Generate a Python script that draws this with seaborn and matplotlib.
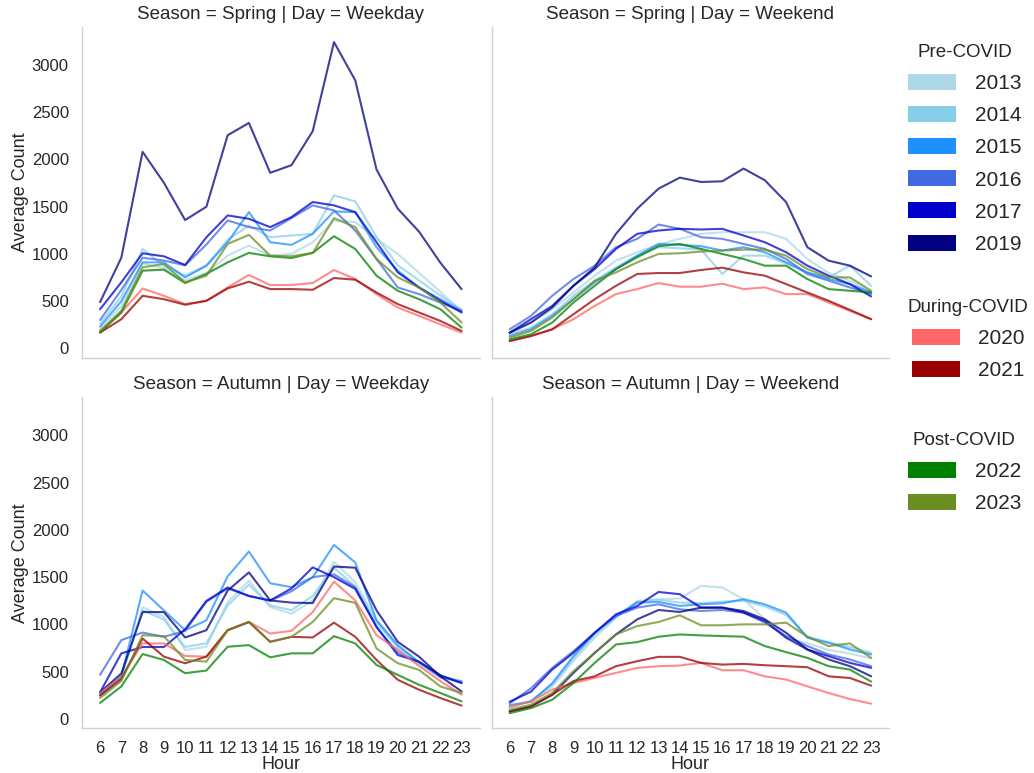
import pandas as pd
import seaborn as sns
import matplotlib.pyplot as plt
from matplotlib.patches import Patch

# Hours of the day shown on the x axis
HOURS = list(range(6, 24))

# Year groups for the legend
PRE_COVID = ["2013", "2014", "2015", "2016", "2017", "2019"]
DURING_COVID = ["2020", "2021"]
POST_COVID = ["2022", "2023"]

YEAR_COLORS = {
    "2013": "#ADD8E6", "2014": "#87CEEB", "2015": "#1E90FF",
    "2016": "#4169E1", "2017": "#0000CD", "2019": "#000080",
    "2020": "#FF6666", "2021": "#990000",
    "2022": "#008000", "2023": "#6B8E23",
}

# Average hourly counts, Spring weekdays
spring_weekday = {
    "2013": [200, 450, 900, 850, 720, 800, 982, 1089, 982, 1000, 1124, 1354, 1337, 1160, 1000, 800, 600, 390],
    "2014": [260, 550, 1053, 876, 770, 876, 1150, 1300, 1177, 1195, 1213, 1620, 1556, 1180, 880, 720, 560, 410],
    "2015": [230, 500, 911, 911, 752, 876, 1124, 1443, 1124, 1096, 1213, 1450, 1443, 1071, 823, 645, 521, 397],
    "2016": [300, 620, 960, 930, 880, 1100, 1355, 1284, 1248, 1380, 1514, 1461, 1248, 947, 645, 575, 486, 397],
    "2017": [415, 700, 1007, 975, 883, 1177, 1408, 1372, 1284, 1390, 1550, 1514, 1443, 1124, 805, 645, 504, 380],
    "2019": [490, 961, 2081, 1754, 1359, 1500, 2257, 2387, 1859, 1940, 2300, 3243, 2838, 1894, 1479, 1236, 908, 627],
    "2020": [185, 380, 635, 557, 469, 504, 646, 777, 671, 671, 692, 830, 734, 575, 433, 344, 255, 167],
    "2021": [167, 309, 557, 521, 462, 504, 635, 706, 628, 628, 621, 745, 727, 592, 469, 380, 291, 185],
    "2022": [170, 380, 823, 834, 692, 788, 911, 1011, 975, 957, 1011, 1188, 1053, 770, 610, 521, 415, 220],
    "2023": [180, 400, 858, 894, 699, 770, 1106, 1202, 982, 975, 1011, 1379, 1284, 947, 752, 645, 486, 274],
}

# Average hourly counts, Spring weekends
spring_weekend = {
    "2013": [166, 273, 415, 592, 770, 929, 1018, 1100, 1160, 1213, 1230, 1230, 1230, 1160, 946, 800, 717, 600],
    "2014": [149, 220, 362, 557, 717, 858, 982, 1071, 1060, 1046, 788, 982, 982, 900, 800, 750, 876, 663],
    "2015": [131, 202, 344, 521, 699, 840, 982, 1106, 1096, 1082, 1036, 1071, 1018, 911, 805, 734, 681, 592],
    "2016": [202, 344, 557, 734, 876, 1071, 1160, 1311, 1266, 1177, 1160, 1106, 1053, 947, 788, 717, 645, 575],
    "2017": [166, 309, 450, 663, 840, 1053, 1213, 1248, 1266, 1259, 1266, 1195, 1124, 1018, 876, 770, 681, 550],
    "2019": [166, 273, 433, 663, 858, 1213, 1479, 1691, 1808, 1762, 1769, 1904, 1780, 1549, 1071, 929, 876, 762],
    "2020": [78, 131, 202, 309, 450, 575, 628, 692, 653, 653, 685, 628, 646, 575, 575, 486, 397, 309],
    "2021": [78, 131, 202, 362, 521, 663, 788, 798, 798, 830, 855, 805, 770, 681, 592, 504, 408, 309],
    "2022": [95, 149, 273, 486, 663, 840, 965, 1082, 1106, 1053, 1000, 947, 876, 876, 734, 628, 610, 592],
    "2023": [113, 184, 326, 521, 717, 805, 911, 1000, 1007, 1025, 1036, 1046, 1046, 982, 840, 752, 752, 610],
}

# Average hourly counts, Autumn weekdays
autumn_weekday = {
    "2013": [250, 430, 1183, 1078, 728, 763, 1235, 1463, 1183, 1113, 1253, 1662, 1445, 1043, 750, 580, 440, 390],
    "2014": [260, 450, 1150, 1050, 760, 800, 1200, 1420, 1200, 1150, 1300, 1600, 1400, 1020, 760, 600, 450, 400],
    "2015": [250, 448, 1358, 1148, 938, 1043, 1508, 1771, 1435, 1393, 1498, 1841, 1655, 1043, 780, 600, 440, 395],
    "2016": [465, 833, 913, 868, 930, 1240, 1380, 1300, 1250, 1350, 1500, 1530, 1393, 973, 700, 600, 460, 380],
    "2017": [280, 693, 760, 760, 947, 1248, 1390, 1300, 1253, 1380, 1603, 1500, 1375, 973, 675, 605, 460, 378],
    "2019": [280, 480, 1130, 1130, 861, 938, 1358, 1550, 1253, 1230, 1225, 1612, 1600, 1148, 815, 658, 450, 290],
    "2020": [273, 440, 798, 798, 665, 658, 938, 1025, 903, 931, 1130, 1452, 1253, 885, 728, 560, 400, 255],
    "2021": [245, 420, 850, 658, 588, 658, 938, 1025, 815, 868, 861, 1018, 868, 623, 413, 308, 220, 140],
    "2022": [168, 343, 686, 623, 483, 511, 763, 780, 651, 693, 693, 875, 798, 570, 465, 360, 273, 185],
    "2023": [220, 400, 885, 875, 623, 605, 938, 1025, 815, 868, 1025, 1277, 1228, 745, 588, 518, 343, 273],
}

# Average hourly counts, Autumn weekends
autumn_weekend = {
    "2013": [110, 190, 340, 610, 860, 1070, 1248, 1266, 1273, 1407, 1390, 1266, 1053, 858, 800, 730, 690, 640],
    "2014": [125, 190, 360, 640, 890, 1075, 1240, 1260, 1230, 1225, 1240, 1250, 1190, 1100, 870, 810, 760, 700],
    "2015": [145, 181, 376, 663, 911, 1089, 1230, 1237, 1195, 1212, 1223, 1266, 1212, 1124, 858, 805, 734, 681],
    "2016": [163, 323, 539, 716, 911, 1089, 1177, 1212, 1159, 1141, 1152, 1124, 1018, 876, 770, 681, 628, 557],
    "2017": [181, 287, 521, 698, 911, 1106, 1195, 1343, 1319, 1177, 1177, 1124, 1035, 858, 734, 663, 592, 539],
    "2019": [78, 131, 255, 486, 698, 893, 1053, 1152, 1131, 1177, 1177, 1141, 1053, 911, 734, 628, 557, 450],
    "2020": [131, 181, 309, 379, 433, 486, 539, 557, 564, 592, 514, 514, 450, 415, 344, 273, 209, 160],
    "2021": [78, 131, 255, 400, 450, 557, 610, 656, 656, 592, 574, 581, 567, 557, 546, 450, 432, 351],
    "2022": [60, 113, 202, 379, 592, 787, 812, 869, 893, 883, 876, 869, 770, 706, 645, 557, 521, 394],
    "2023": [96, 149, 273, 504, 698, 893, 982, 1025, 1096, 990, 990, 1000, 1000, 1018, 869, 770, 798, 645],
}

panels = [
    ("Spring", "Weekday", spring_weekday),
    ("Spring", "Weekend", spring_weekend),
    ("Autumn", "Weekday", autumn_weekday),
    ("Autumn", "Weekend", autumn_weekend),
]

records = []
for season, day, table in panels:
    for year, values in table.items():
        for hour, count in zip(HOURS, values):
            records.append({"Season": season, "Day": day, "Year": year,
                            "Hour": hour, "Average Count": count})
df = pd.DataFrame(records)

sns.set_theme(style="white", rc={"axes.edgecolor": ".82", "axes.linewidth": 1.0})
plt.rcParams["font.family"] = ["Liberation Sans", "DejaVu Sans"]

g = sns.relplot(
    data=df, x="Hour", y="Average Count", hue="Year",
    hue_order=PRE_COVID + DURING_COVID + POST_COVID, palette=YEAR_COLORS,
    row="Season", col="Day", row_order=["Spring", "Autumn"],
    col_order=["Weekday", "Weekend"], kind="line", legend=False,
    alpha=0.75, linewidth=1.5, height=3.3, aspect=1.2,
)
fig = g.figure
fig.set_size_inches(10.34, 7.73)
fig.subplots_adjust(left=0.0793, right=0.860, top=0.965, bottom=0.058,
                    wspace=0.03, hspace=0.12)

g.set(xticks=HOURS)
g.set_titles(size=13.5)
for ax in g.axes.flat:
    ax.tick_params(labelsize=12)
for ax in g.axes[-1, :]:
    ax.set_xlabel("Hour", fontsize=13, labelpad=0)
for ax in g.axes[:, 0]:
    ax.set_ylabel("Average Count", fontsize=13, labelpad=2)

# Grouped legend on the right
groups = [("Pre-COVID", PRE_COVID, 0.943),
          ("During-COVID", DURING_COVID, 0.613),
          ("Post-COVID", POST_COVID, 0.441)]
for title, years, top in groups:
    handles = [Patch(facecolor=YEAR_COLORS[y], edgecolor="none", label=y) for y in years]
    fig.legend(handles=handles, title=title, loc="upper left",
               bbox_to_anchor=(0.878, top), frameon=False, fontsize=15,
               title_fontsize=13.5, handlelength=2.3, handleheight=0.8,
               handletextpad=0.9, borderpad=0, borderaxespad=0,
               labelspacing=0.62)

fig.savefig("out.png", dpi=100)
